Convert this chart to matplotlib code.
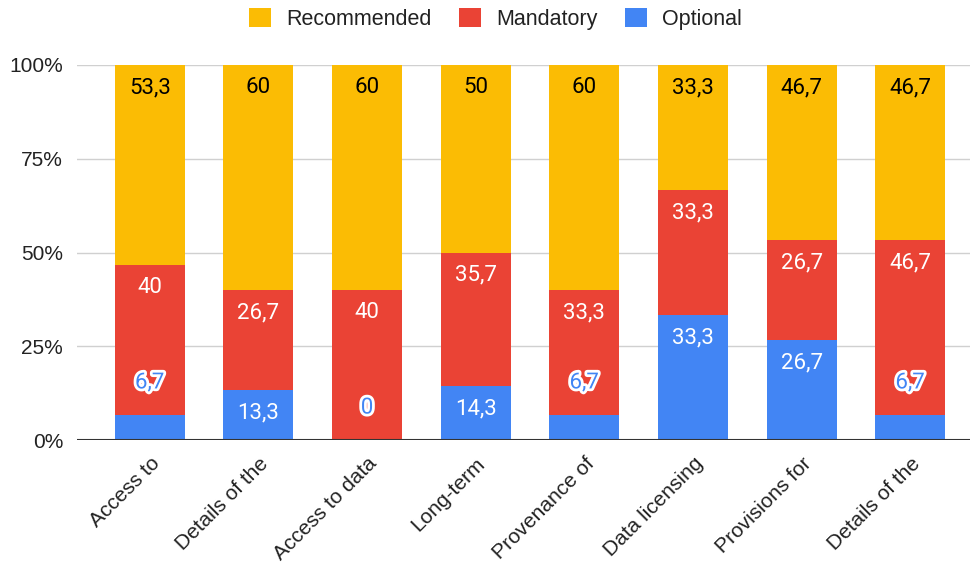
import matplotlib
matplotlib.use("Agg")
import matplotlib.pyplot as plt
from matplotlib.patches import Patch
import matplotlib.patheffects as pe
import numpy as np

categories = ["Access to", "Details of the", "Access to data", "Long-term",
              "Provenance of", "Data licensing", "Provisions for", "Details of the"]
optional = [6.7, 13.3, 0, 14.3, 6.7, 33.3, 26.7, 6.7]
mandatory = [40, 26.7, 40, 35.7, 33.3, 33.3, 26.7, 46.7]
recommended = [53.3, 60, 60, 50, 60, 33.3, 46.7, 46.7]
yticks = [0, 25, 50, 75, 100]
ytick_labels = ["0%", "25%", "50%", "75%", "100%"]

C_Y = "#FBBC04"
C_R = "#EA4335"
C_B = "#4285F4"

plt.rcParams["font.family"] = ["Liberation Sans", "DejaVu Sans"]

fig = plt.figure(figsize=(9.72, 5.65), dpi=100)
ax = fig.add_axes([77/972, 1-440/565, (970-77)/972, (440-65)/565])

opt = np.array(optional, float)
man = np.array(mandatory, float)
rec = np.array(recommended, float)
tot = opt + man + rec
p_opt = opt / tot * 100
p_man = man / tot * 100
p_rec = rec / tot * 100

x = np.arange(len(categories))
w = 0.645
ax.bar(x, p_opt, w, color=C_B, zorder=2)
ax.bar(x, p_man, w, bottom=p_opt, color=C_R, zorder=2)
ax.bar(x, p_rec, w, bottom=p_opt + p_man, color=C_Y, zorder=2)

def fmt(v):
    s = ("%.1f" % v).rstrip("0").rstrip(".")
    return s.replace(".", ",")

def label(xi, top, height, val, color):
    hpx = height * 3.75
    if hpx < 40:
        t = ax.annotate(fmt(val), (xi, top), xytext=(0, 23), textcoords="offset points",
                        ha="center", va="center", fontsize=16, color=C_B,
                        family=["Roboto", "DejaVu Sans"], zorder=5)
        t.set_path_effects([pe.withStroke(linewidth=4, foreground="white")])
    else:
        ax.annotate(fmt(val), (xi, top), xytext=(0, -16.5), textcoords="offset points",
                    ha="center", va="center", fontsize=16, color=color,
                    family=["Roboto", "DejaVu Sans"], zorder=5)

for i in x:
    label(i, p_opt[i], p_opt[i], opt[i], "white")
    label(i, p_opt[i] + p_man[i], p_man[i], man[i], "white")
    label(i, 100, p_rec[i], rec[i], "black")

ax.set_xlim(-0.67, 7.55)
ax.set_ylim(0, 100)
ax.set_yticks(yticks)
ax.set_yticklabels(ytick_labels, fontsize=15, color="#222222")
ax.yaxis.grid(True, color="#d0d0d0", linewidth=1, zorder=0)
ax.set_axisbelow(True)
ax.axhline(0, color="#333333", linewidth=1.5, zorder=3)
ax.set_xticks(x)
ax.set_xticklabels(categories, rotation=45, ha="right", rotation_mode="anchor",
                   fontsize=15, color="#222222")
ax.tick_params(axis="both", length=0)
ax.tick_params(axis="y", pad=10)
ax.tick_params(axis="x", pad=10)
for s in ax.spines.values():
    s.set_visible(False)

handles = [Patch(facecolor=C_Y, label="Recommended"),
           Patch(facecolor=C_R, label="Mandatory"),
           Patch(facecolor=C_B, label="Optional")]
fig.legend(handles=handles, loc="center", bbox_to_anchor=(495.5/972, 1-19/565), ncol=3,
           frameon=False, fontsize=15.5, handlelength=1.0, handleheight=1.0,
           handletextpad=0.7, columnspacing=1.3, labelcolor="#222222")

fig.savefig("out.png", dpi=100)
